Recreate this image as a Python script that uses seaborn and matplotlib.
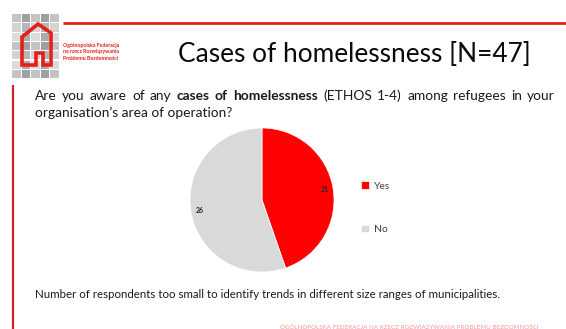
import matplotlib
matplotlib.use("Agg")
import matplotlib.pyplot as plt
import seaborn as sns
from matplotlib.patches import Rectangle, Polygon

sns.set_theme(style="white")
plt.rcParams['font.family'] = ['Lato', 'DejaVu Sans']

# ---- data ----
categories = ["Yes", "No"]
counts = [21, 26]
colors = ["#FF0000", "#D9D9D9"]
title = "Cases of homelessness [N=47]"
q_line1 = [("Are", "normal"), ("you", "normal"), ("aware", "normal"), ("of", "normal"), ("any", "normal"),
           ("cases", "bold"), ("of", "bold"), ("homelessness", "bold"), ("(ETHOS", "normal"),
           ("1-4)", "normal"), ("among", "normal"), ("refugees", "normal"), ("in", "normal"),
           ("your", "normal")]
q_line2 = "organisation\u2019s area of operation?"
footnote = "Number of respondents too small to identify trends in different size ranges of municipalities."
logo_lines = ["Ogólnopolska Federacja", "na rzecz Rozwiązywania", "Problemu Bezdomności"]

W, H = 566, 329
fig = plt.figure(figsize=(W / 100, H / 100), dpi=100)
fig.patch.set_facecolor("white")

# overlay axes in pixel coords
ov = fig.add_axes([0, 0, 1, 1])
ov.set_xlim(0, W)
ov.set_ylim(H, 0)
ov.axis("off")

fig.canvas.draw()
renderer = fig.canvas.get_renderer()


def width_px(t):
    bb = t.get_window_extent(renderer=renderer)
    return bb.width


def fit_text(s, x0, x1, y, base=10, **kw):
    t = ov.text(x0, y, s, fontsize=base, va="center", ha="left", **kw)
    w = width_px(t)
    t.set_fontsize(base * (x1 - x0) / w)
    return t


# logo grid
shades = ["#C4C4C4", "#ABABAB", "#D3D3D3", "#A0A0A0", "#DCDCDC", "#B6B6B6"]
for r in range(7):
    for c in range(5):
        x = 12 + c * 9.5
        y = 14 + r * 9.3
        ov.add_patch(Rectangle((x, y), 8.5, 8.3, color=shades[(r * 2 + c * 3) % len(shades)], lw=0))
house = [(22, 65), (22, 37), (38, 24), (51, 33), (51, 65), (43, 65), (43, 53), (36, 53), (36, 65)]
ov.add_patch(Polygon(house, closed=True, fill=False, edgecolor="#E32119", lw=2.6))
for i, s in enumerate(logo_lines):
    ov.text(63, 45 + i * 6.5, s, fontsize=3.8, color="#E32119", fontweight="bold", va="center", ha="left")

# red rules
ov.plot([63, W], [23, 23], color="#E32119", lw=2.0, solid_capstyle="butt")
ov.plot([13, 13], [85, H], color="#D0222A", lw=1.6, solid_capstyle="butt")

# title
fit_text(title, 178, 530, 54, color="#0A0A0A")

# question, line 2 sets font size
t2 = fit_text(q_line2, 35, 233, 113, color="#1A1A1A")
fs = t2.get_fontsize()
# justified line 1
words = []
tot = 0
for w_, wt in q_line1:
    t = ov.text(0, 96, w_, fontsize=fs, fontweight=wt, va="center", ha="left", color="#1A1A1A")
    wd = width_px(t)
    words.append((t, wd))
    tot += wd
gap = (555 - 35 - tot) / (len(words) - 1)
x = 35
for t, wd in words:
    t.set_x(x)
    x += wd + gap

# footnote
fit_text(footnote, 35, 500, 295, color="#1A1A1A")

# bottom faint red text
ov.text(280, 327, "OGÓLNOPOLSKA FEDERACJA NA RZECZ ROZWIĄZYWANIA PROBLEMU BEZDOMNOŚCI",
        fontsize=4.5, color="#F08080", va="center", ha="left", alpha=0.8)

# pie
cx, cy, r = 262, 200, 72
pax = fig.add_axes([(cx - r) / W, (H - cy - r) / H, 2 * r / W, 2 * r / H])
wedges, texts, autotexts = pax.pie(
    counts, colors=colors, startangle=90, counterclock=False,
    autopct=lambda p: f"{round(p * sum(counts) / 100)}", pctdistance=0.88,
    wedgeprops=dict(linewidth=0.5, edgecolor="white"),
    textprops=dict(fontsize=5, color="#262626", fontweight="bold"))
pax.set_aspect("equal")
pax.set_xlim(-1, 1)
pax.set_ylim(-1, 1)

fig.legend(wedges, categories, loc="upper left", bbox_to_anchor=(352 / W, 1 - 172 / H),
           frameon=False, fontsize=7.5, handlelength=0.7, handleheight=0.7,
           labelspacing=3.3, handletextpad=0.5, labelcolor="#404040")

fig.savefig("out.png", dpi=100, facecolor="white")
